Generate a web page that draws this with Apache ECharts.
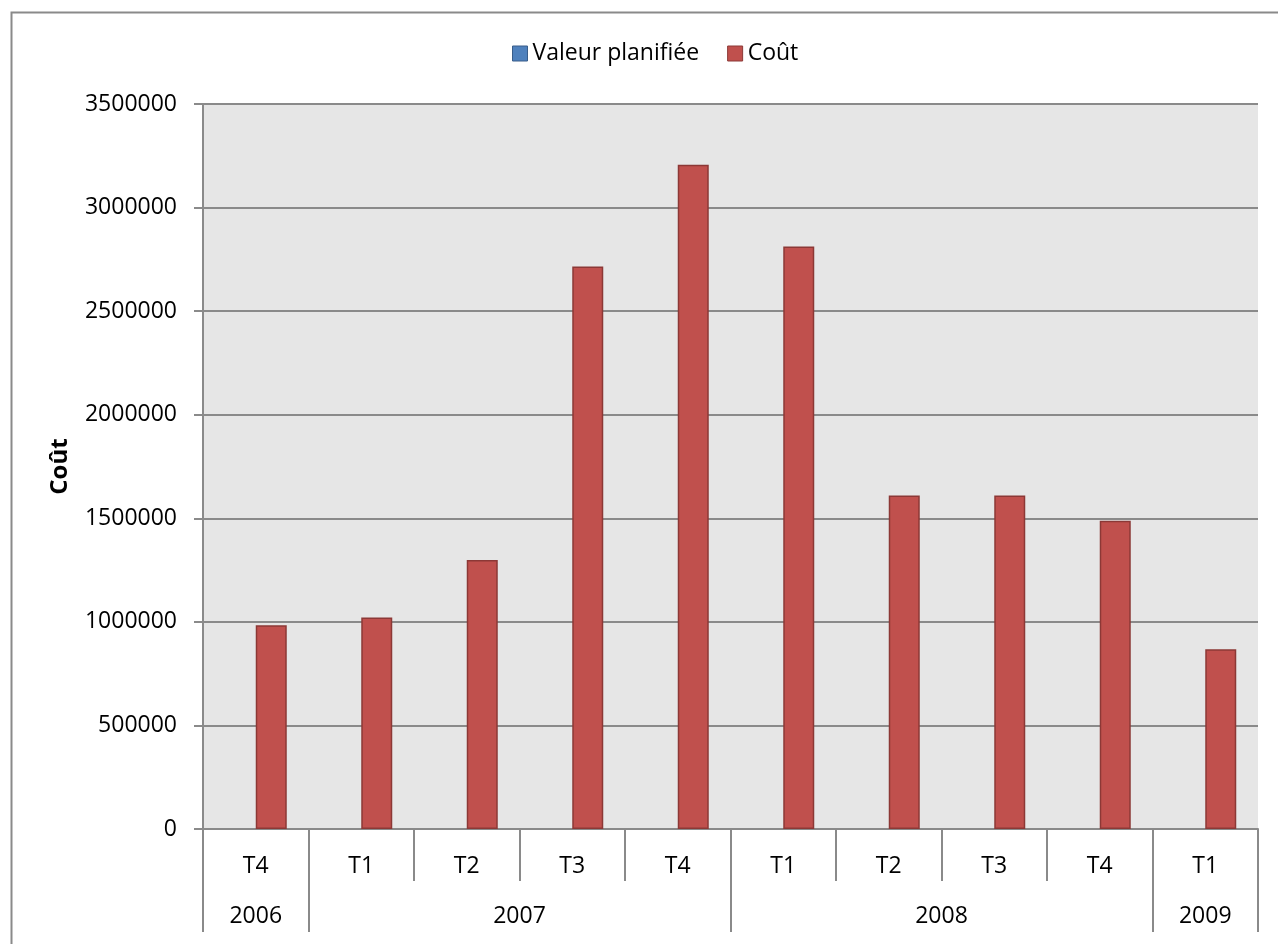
<!DOCTYPE html>
<html>
<head>
<meta charset="utf-8">
<script src="https://cdn.jsdelivr.net/npm/echarts@6/dist/echarts.min.js"></script>
<style>
html,body{margin:0;padding:0;background:#fff;}
#chart{width:1278px;height:944px;}
</style>
</head>
<body>
<div id="chart"></div>
<script>
const quarters = ['T4','T1','T2','T3','T4','T1','T2','T3','T4','T1'];
const years = ['2006','2007','2008','2009'];
const yearSpans = [1,4,4,1];
const plannedValues = [0,0,0,0,0,0,0,0,0,0];
const costValues = [984000,1021000,1299000,2715000,3207000,2812000,1610000,1610000,1488000,868000];
const yMin = 0, yMax = 3500000, yInterval = 500000;

const yearBounds = [0];
yearSpans.forEach(s => yearBounds.push(yearBounds[yearBounds.length-1] + s));
const yearCenters = yearSpans.map((s,i) => yearBounds[i] + s/2);

const FONT = 'Open Sans';
const GRAY = '#8a8a8a';

const chart = echarts.init(document.getElementById('chart'));
chart.setOption({
  animation: false,
  textStyle: {fontFamily: FONT},
  graphic: [{
    type: 'rect', left: 9, top: 10, shape: {width: 1320, height: 1000},
    style: {fill: 'none', stroke: GRAY, lineWidth: 2}, silent: true
  }],
  legend: {
    left: 507, top: 37,
    itemWidth: 15, itemHeight: 15, itemGap: 28,
    icon: 'rect',
    textStyle: {fontFamily: FONT, fontSize: 23, color: '#000'},
    data: [
      {name: 'Valeur planifiée', itemStyle: {color: '#4f81bd', borderColor: '#385d8a', borderWidth: 1}},
      {name: 'Coût', itemStyle: {color: '#c0504d', borderColor: '#8c3836', borderWidth: 1}}
    ]
  },
  grid: {left: 203, right: 20, top: 104, bottom: 115, containLabel: false,
         show: true, backgroundColor: '#e6e6e6', borderWidth: 0},
  xAxis: [{
    type: 'category', data: quarters, position: 'bottom',
    axisLine: {show: true, lineStyle: {color: GRAY, width: 2}},
    axisTick: {show: true, interval: 0, length: 52, lineStyle: {color: GRAY, width: 2}},
    axisLabel: {interval: 0, margin: 26, fontFamily: FONT, fontSize: 23, color: '#000'},
    splitLine: {show: false}
  },{
    type: 'value', min: 0, max: yearBounds[yearBounds.length-1], position: 'bottom',
    axisLine: {show: false},
    axisTick: {show: true, customValues: yearBounds, length: 103, lineStyle: {color: GRAY, width: 2}},
    axisLabel: {show: true, customValues: yearCenters, margin: 76, fontFamily: FONT, fontSize: 23, color: '#000',
      formatter: v => { const i = yearCenters.findIndex(c => Math.abs(c - v) < 1e-6); return i >= 0 ? years[i] : ''; }},
    splitLine: {show: false}
  }],
  yAxis: {
    type: 'value', min: yMin, max: yMax, interval: yInterval,
    name: 'Coût', nameLocation: 'middle', nameGap: 131, nameRotate: 90,
    nameTextStyle: {fontFamily: FONT, fontSize: 24, fontWeight: 'bold', color: '#000'},
    axisLine: {show: true, lineStyle: {color: GRAY, width: 2}},
    axisTick: {show: true, length: 9, lineStyle: {color: GRAY, width: 2}},
    axisLabel: {margin: 26, fontFamily: FONT, fontSize: 23, color: '#000', formatter: v => String(v)},
    splitLine: {show: true, lineStyle: {color: GRAY, width: 2}}
  },
  series: [{
    name: 'Valeur planifiée', type: 'bar', xAxisIndex: 0, data: plannedValues,
    barWidth: 31, barGap: '0%',
    itemStyle: {color: '#4f81bd', borderWidth: 0}
  },{
    name: 'Coût', type: 'bar', xAxisIndex: 0, data: costValues,
    barWidth: 31, barGap: '0%',
    itemStyle: {color: '#c0504d', borderColor: '#8c3836', borderWidth: 1.5}
  }]
});
</script>
</body>
</html>
